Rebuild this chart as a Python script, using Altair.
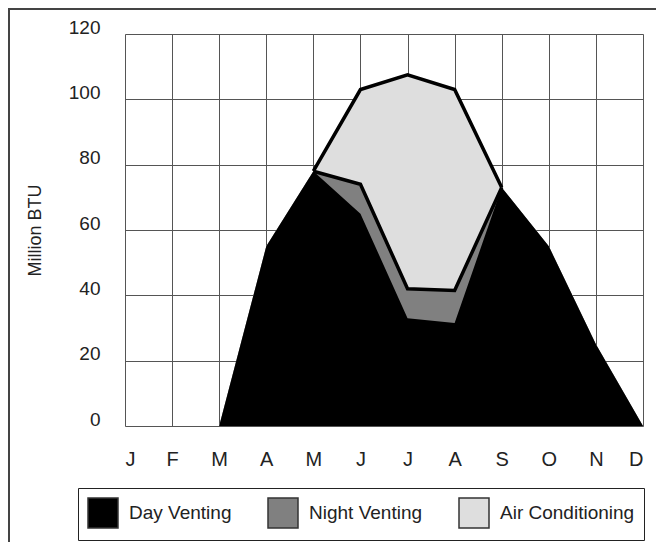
import altair as alt
import pandas as pd

months = ["J", "F", "M", "A", "M", "J", "J", "A", "S", "O", "N", "D"]
day_venting = [None, None, 0, 55, 78, 65, 33, 31.5, 73, 55, 25, 0]
night_venting = [None, None, 0, 55, 78, 74, 42, 41.5, 73, 55, 25, 0]
air_conditioning = [None, None, 0, 55, 78, 103, 107.5, 103, 73, 55, 25, 0]
series_names = ["Day Venting", "Night Venting", "Air Conditioning"]
series_colors = ["#000000", "#808080", "#dedede"]
y_ticks = [0, 20, 40, 60, 80, 100, 120]

rows = []
for name, vals in zip(series_names, [day_venting, night_venting, air_conditioning]):
    for i, v in enumerate(vals):
        rows.append({"idx": i, "series": name, "value": v})
df = pd.DataFrame(rows)

FONT = "Liberation Sans"
month_expr = "[" + ",".join("'%s'" % m for m in months) + "][datum.value]"

x_enc = alt.X(
    "idx:Q",
    scale=alt.Scale(domain=[0, 11], nice=False, zero=False),
    axis=alt.Axis(values=list(range(12)), labelExpr=month_expr, title=None,
                  grid=True, ticks=False, domain=False, labelPadding=23,
                  labelFontSize=20, labelFont=FONT, labelColor="#222",
                  gridColor="#555", gridWidth=1),
)
y_enc = alt.Y(
    "value:Q",
    stack=None,
    scale=alt.Scale(domain=[0, 120], nice=False),
    axis=alt.Axis(values=y_ticks, title="Million BTU", grid=True, ticks=False,
                  domain=False, labelPadding=25, labelFontSize=19, labelFont=FONT,
                  labelColor="#222", labelBaseline="alphabetic", labelOffset=-1,
                  titleFont=FONT, titleFontSize=18, titleFontWeight="normal",
                  titleColor="#222", titlePadding=24,
                  gridColor="#555", gridWidth=1),
)
color_enc = alt.Color(
    "series:N",
    scale=alt.Scale(domain=series_names, range=series_colors),
    legend=alt.Legend(title=None, orient="none", legendX=-47, legendY=454,
                      direction="horizontal", symbolType="square", symbolSize=900,
                      symbolStrokeColor="#333", symbolStrokeWidth=1.5,
                      labelFont=FONT, labelFontSize=19, labelColor="#222",
                      labelOffset=10, columnPadding=33, padding=9,
                      strokeColor="#222", fillColor="white"),
)

base = alt.Chart(df)


def area_layer(name):
    return base.transform_filter(alt.datum.series == name).mark_area(
        opacity=1, interpolate="linear"
    ).encode(x=x_enc, y=y_enc, color=color_enc)


ac_area = area_layer("Air Conditioning")
night_area = area_layer("Night Venting")
day_area = area_layer("Day Venting")

lines = base.transform_filter(
    (alt.datum.idx >= 4) & (alt.datum.idx <= 8) & (alt.datum.series != "Day Venting")
).mark_line(color="black", strokeWidth=3.5, strokeJoin="miter").encode(
    x="idx:Q", y="value:Q", detail="series:N"
)

frame_data = alt.Data(values=[{}])
top_rule = alt.Chart(frame_data).mark_rule(color="#444", strokeWidth=2).encode(
    x=alt.value(-117), x2=alt.value(540), y=alt.value(-25)
)
left_rule = alt.Chart(frame_data).mark_rule(color="#444", strokeWidth=2).encode(
    x=alt.value(-116), y=alt.value(-26), y2=alt.value(520)
)

chart = alt.layer(ac_area, night_area, day_area, lines, top_rule, left_rule).properties(
    width=518, height=392,
    autosize=alt.AutoSizeParams(type="none"),
    padding={"left": 117, "top": 26, "right": 13, "bottom": 116},
).configure_view(stroke="black", strokeWidth=1.5).configure(background="white")

chart.save("out.html", embed_options={"renderer": "svg", "actions": False})
